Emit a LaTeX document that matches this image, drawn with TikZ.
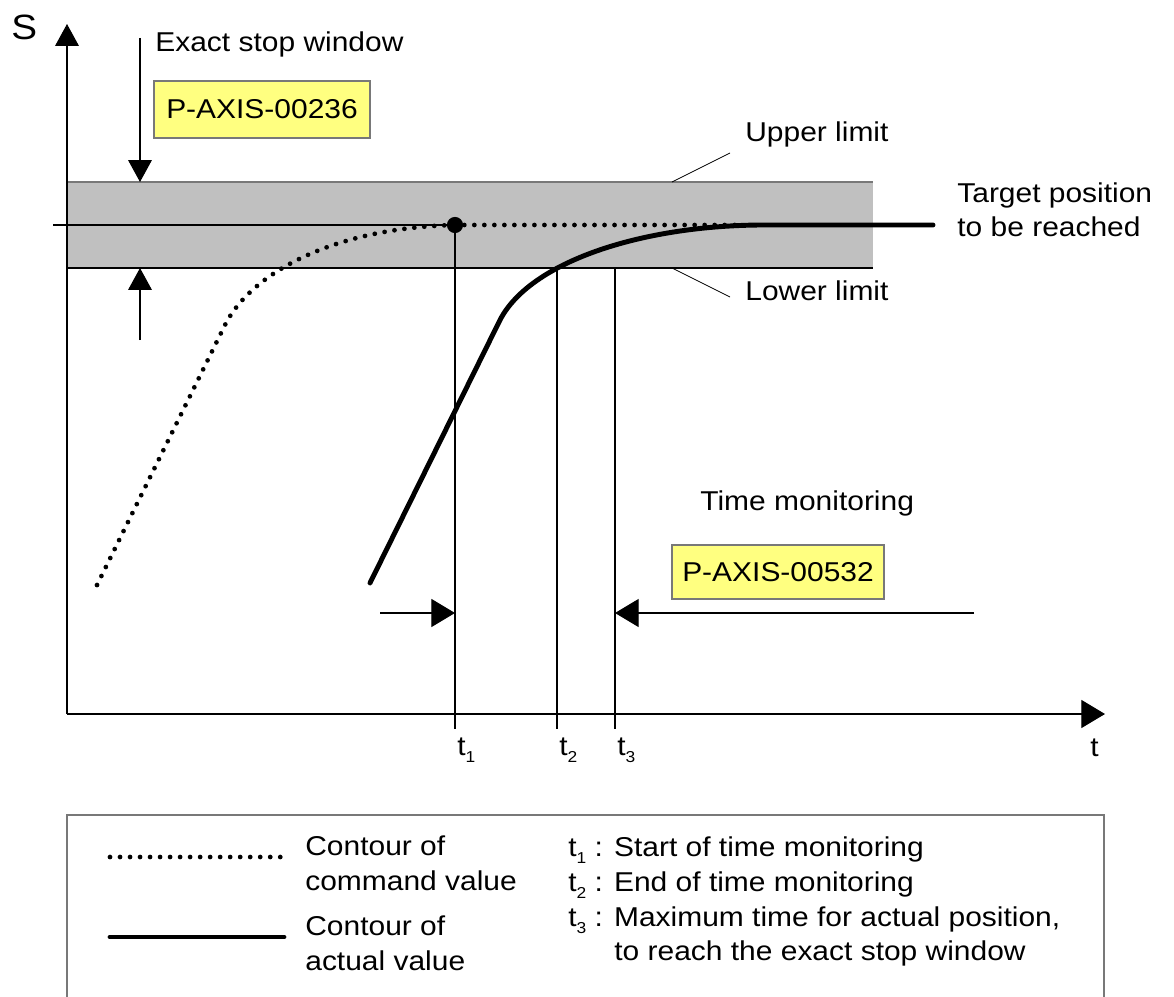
\documentclass[tikz,border=0pt]{standalone}
\usepackage{fontspec}
\setmainfont[FakeStretch=1.1]{Liberation Sans}
\usetikzlibrary{arrows.meta}
\definecolor{bandgray}{RGB}{192,192,192}
\definecolor{edgegray}{RGB}{120,120,120}
\definecolor{noteyellow}{RGB}{255,255,128}
\newcommand{\tsub}[1]{t\raisebox{-4pt}{\fontsize{9}{9}\selectfont #1}}

\begin{document}
\begin{tikzpicture}[x=0.02cm, y=-0.02cm, font=\fontsize{15.5}{19}\selectfont,
  thinline/.style={line width=0.6pt},
  headv/.style={-{Triangle[length=12.5pt,width=13.5pt]}},
  headh/.style={-{Triangle[length=13.5pt,width=16pt]}},
  cmdcurve/.style={line width=2.7pt, line cap=round, dash pattern=on 0pt off 5.7pt},
  actcurve/.style={line width=2.8pt, line cap=round},
  notebox/.style={draw=edgegray, fill=noteyellow, line width=0.6pt, inner sep=0pt},
  lbl/.style={anchor=base west, inner sep=0pt}]
\useasboundingbox (0,0) rectangle (1174,997);

% exact stop window band
\fill[bandgray] (67,182) rectangle (873,268);
\draw[thinline, edgegray] (67,182) -- (873,182);
\draw[thinline] (67,268) -- (873,268);
\coordinate (tgtL) at (53,225);
\coordinate (dot) at (455,225);
\draw[thinline] (tgtL) -- (dot);

% axes
\coordinate (O) at (67,714);
\coordinate (Stip) at (67,24);
\coordinate (ttip) at (1105,714);
\draw[thinline, headv] (O) -- (Stip);
\draw[thinline, headh] (O) -- (ttip);
\node[lbl, font=\fontsize{20}{20}\selectfont] (lblS) at (11,40) {S};
\node[lbl] (lblt) at (1090,756) {t};

% time marks
\foreach \x/\y/\n in {455/225/1, 557/268/2, 615/268/3} {
  \draw[thinline] (\x,\y) -- (\x,729);
  \node[lbl] (tlbl\n) at (\x+2,755) {\tsub{\n}};
}

% curves
\draw[cmdcurve] (97,585) -- (225,325) .. controls (250,275) and (330,228) .. (dot) -- (740,225);
\fill (dot) circle[radius=4.6pt];
\draw[actcurve] (370,583) -- (500,320) .. controls (530,262) and (640,226) .. (760,225) -- (933,225);

% exact stop window
\node[lbl] (lblwin) at (155,52) {Exact stop window};
\node[notebox, minimum width=4.32cm, minimum height=1.14cm] (par1) at (262,109.5) {P-AXIS-00236};
\coordinate (winA) at (140,38);
\coordinate (winB) at (140,182);
\coordinate (winC) at (140,340);
\coordinate (winD) at (140,268);
\draw[thinline, headv] (winA) -- (winB);
\draw[thinline, headv] (winC) -- (winD);

% limits
\node[lbl] (lblup) at (745,142) {Upper limit};
\node[lbl] (lbllow) at (745,300) {Lower limit};
\draw[line width=0.5pt] (672,182) -- (730,153);
\draw[line width=0.5pt] (672,268) -- (730,297);
\node[lbl] (lbltgt) at (957,202) {Target position};
\node[lbl] (lbltgt2) at (957,236) {to be reached};

% time monitoring
\node[lbl] (lbltime) at (700,510) {Time monitoring};
\node[notebox, minimum width=4.24cm, minimum height=1.08cm] (par2) at (778,572) {P-AXIS-00532};
\coordinate (mA) at (380,613);
\coordinate (mB) at (455,613);
\coordinate (mC) at (974,613);
\coordinate (mD) at (615,613);
\draw[thinline, headh] (mA) -- (mB);
\draw[thinline, headh] (mC) -- (mD);

% legend
\draw[thinline, edgegray] (67,997) |- (1104,815) -- (1104,997);
\draw[cmdcurve] (110,857) -- (286,857);
\draw[actcurve] (110,937) -- (284,937);
\node[lbl] (leg1) at (305,855) {Contour of};
\node[lbl] (leg2) at (305,890) {command value};
\node[lbl] (leg3) at (305,935) {Contour of};
\node[lbl] (leg4) at (305,970) {actual value};
\node[lbl] (legt1) at (568,856) {\tsub{1} : Start of time monitoring};
\node[lbl] (legt2) at (568,891) {\tsub{2} : End of time monitoring};
\node[lbl] (legt3) at (568,926) {\tsub{3} : Maximum time for actual position,};
\node[lbl] (legt4) at (614,960) {to reach the exact stop window};
\end{tikzpicture}
\end{document}
